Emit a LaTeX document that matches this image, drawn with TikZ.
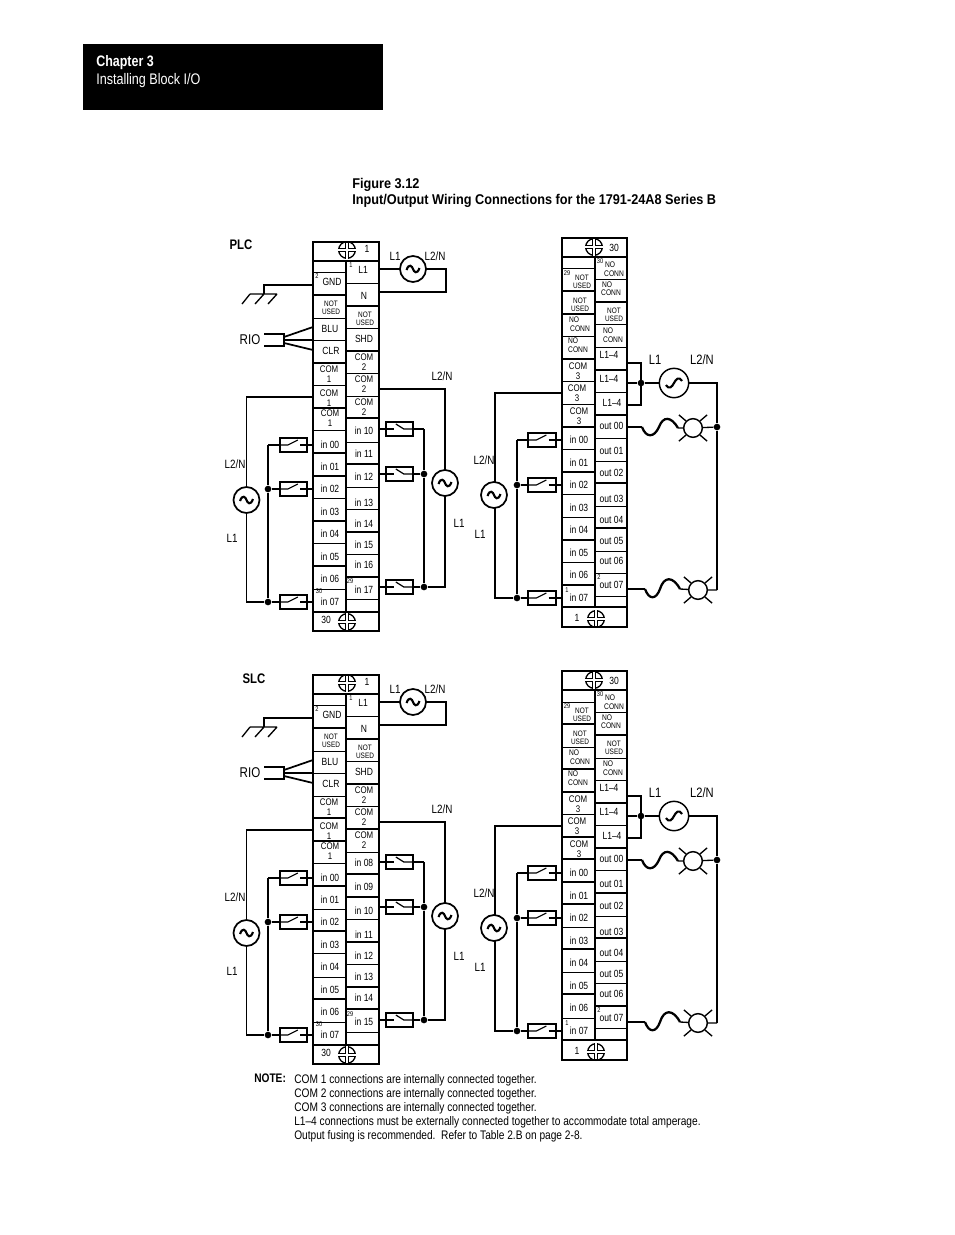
\documentclass[tikz,border=0pt]{standalone}
\usepackage{fontspec}
\setmainfont[FakeStretch=0.82]{Liberation Sans}
\newfontfamily\headfont[FakeStretch=0.9]{Liberation Sans}
\usepackage{xcolor}
\usepackage{tikz}
\usetikzlibrary{positioning, calc}

\tikzset{
  wire/.style={line width=1pt},
  rowthin/.style={line width=0.7pt},
  rowthick/.style={line width=1.5pt},
  frame/.style={line width=1.5pt},
  inlab/.style={inner sep=0pt,font=\fontsize{7.8}{8}\selectfont},
  comlab/.style={inner sep=0pt,align=center,font=\fontsize{7.2}{7.6}\selectfont},
  tinylab/.style={inner sep=0pt,align=center,font=\fontsize{5.9}{6.2}\selectfont},
  conlab/.style={inner sep=0pt,font=\fontsize{6.1}{6.4}\selectfont},
  numlab/.style={inner sep=0pt,font=\fontsize{5.2}{5.5}\selectfont},
  sidelab/.style={inner sep=0pt,font=\fontsize{9}{10}\selectfont},
  riolab/.style={inner sep=0pt,font=\fontsize{10.6}{11}\selectfont},
  biglab/.style={inner sep=0pt,font=\fontsize{10.2}{11}\selectfont},
  notelab/.style={inner sep=0pt,anchor=west,font=\fontsize{9.3}{10}\selectfont},
  headlab/.style={inner sep=0pt,anchor=west,font=\headfont\bfseries\fontsize{10.6}{12}\selectfont},
  acsrc/.style={circle,draw,fill=white,line width=1.3pt,inner sep=0pt,minimum size=19.5pt,
    path picture={\draw[line width=1.6pt]
      ($(path picture bounding box.center)+(-6.5,1)$)
      .. controls ($(path picture bounding box.center)+(-4,-6)$) and ($(path picture bounding box.center)+(-1,-3)$) .. (path picture bounding box.center)
      .. controls ($(path picture bounding box.center)+(1,3)$) and ($(path picture bounding box.center)+(4,6)$) .. ($(path picture bounding box.center)+(6.5,-1)$);}},
  acsrcout/.style={circle,draw,fill=white,line width=1.1pt,inner sep=0pt,minimum size=22pt,
    path picture={\draw[line width=1.6pt]
      ($(path picture bounding box.center)+(-8,2)$)
      .. controls ($(path picture bounding box.center)+(-5,7)$) and ($(path picture bounding box.center)+(-2,4)$) .. (path picture bounding box.center)
      .. controls ($(path picture bounding box.center)+(2,-4)$) and ($(path picture bounding box.center)+(5,-7)$) .. ($(path picture bounding box.center)+(8,-2)$);}},
  swl/.style={rectangle,draw,line width=1.3pt,inner sep=0pt,minimum width=20.5pt,minimum height=10pt,
    path picture={\draw[line width=0.9pt]
      (path picture bounding box.west) -- ++(8,0) -- ++(10,-5);
      \draw[line width=0.9pt] ($(path picture bounding box.east)+(-7,0)$) -- (path picture bounding box.east);}},
  swr/.style={rectangle,draw,line width=1.3pt,inner sep=0pt,minimum width=20.5pt,minimum height=10pt,
    path picture={\draw[line width=0.9pt]
      (path picture bounding box.west) -- ++(8,0);
      \draw[line width=0.9pt] ($(path picture bounding box.west)+(10,-5)$) -- ++(8,5) -- (path picture bounding box.east);}},
  screw/.style={circle,draw,line width=1pt,inner sep=0pt,minimum size=12.5pt},
  lamp/.style={circle,draw,line width=1.1pt,inner sep=0pt,minimum size=14pt},
  dot/.style={circle,fill=black,inner sep=0pt,minimum size=5pt}
}

% plus mark in a screw
\newcommand{\screwmark}[1]{
  \draw[line width=2.8pt] (#1.west) -- (#1.east) (#1.north) -- (#1.south);
  \draw[line width=1.1pt,white] (#1.west) -- (#1.east) (#1.north) -- (#1.south);
}

% one input block with its wiring
\newcommand{\leftunit}[5]{
  \node[screw] (topscrew) at (347,250) {};
  \node[screw] (botscrew) at (347,622) {};
  \screwmark{topscrew}
  \screwmark{botscrew}
  \draw[frame] (313,242) rectangle (379,631);
  \draw[frame] (346,260.5) -- (346,612);
  \draw[frame] (313,260.5) -- (379,260.5) (313,612) -- (379,612);
  \foreach \y in {#1} \draw[rowthick] (313,\y) -- (346,\y);
  \foreach \y in {#2} \draw[rowthin] (313,\y) -- (346,\y);
  \foreach \y in {#3} \draw[rowthick] (346,\y) -- (379,\y);
  \foreach \y in {#4} \draw[rowthin] (346,\y) -- (379,\y);
  % terminal labels
  \node[inlab] at (367,249) {1};
  \node[inlab] at (326,620) {30};
  \node[numlab] at (317,276) {2};
  \node[numlab] at (351,265) {1};
  \node[numlab] at (350,581) {29};
  \node[numlab] at (319,591) {30};
  \node[inlab] at (332,282) {GND};
  \node[inlab] at (363,270) {L1};
  \node[inlab] at (364,296) {N};
  \node[tinylab] at (331,308) {NOT\\USED};
  \node[tinylab] at (365,319) {NOT\\USED};
  \node[inlab] at (330,329) {BLU};
  \node[inlab] at (331,351) {CLR};
  \node[inlab] at (364,339) {SHD};
  \node[comlab] at (329,374) {COM\\1};
  \node[comlab] at (329,398) {COM\\1};
  \node[comlab] at (330,418) {COM\\1};
  \node[comlab] at (364,362) {COM\\2};
  \node[comlab] at (364,384) {COM\\2};
  \node[comlab] at (364,407) {COM\\2};
  \foreach \y [count=\i from 0] in {445,467,489,512,534,557,579,602}
    \node[inlab] at (330,\y) {in 0\i};
  \foreach \y/\t in {#5}
    \node[inlab] at (364,\y) {in \t};
  % AC feed to L1 and N
  \coordinate (l1pin) at (379,269);
  \coordinate (npin) at (379,292);
  \coordinate (feedr) at (446,269);
  \coordinate (feedd) at (446,292);
  \draw[wire] (l1pin) -- (feedr) -- (feedd) -- (npin);
  \node[acsrc] (acfeed) at (413,269) {};
  \node[sidelab] at (395,256) {L1};
  \node[sidelab] at (435,256) {L2/N};
  % earth
  \coordinate (gndpin) at (313,285);
  \coordinate (gndtop) at (264,285);
  \coordinate (gndbar) at (264,294);
  \draw[wire] (gndpin) -- (gndtop) -- (gndbar);
  \draw[wire] (250,294) -- (277,294)
    (250,294) -- (242,304) (264,294) -- (255,304) (277,294) -- (268,304);
  % RIO cable
  \node[riolab] at (250,340) {RIO};
  \draw[line width=1.3pt] (264,334) -- (284,334) -- (284,346) -- (264,346);
  \draw[line width=1.3pt] (284,337) -- (313,327) (284,340) -- (313,340) (284,343) -- (313,350);
  % inputs left side
  \coordinate (com1pin) at (313,397);
  \coordinate (comcorner) at (246.5,397);
  \coordinate (srcbot) at (246.5,602);
  \node[swl] (swa) at (293.5,445) {};
  \node[swl] (swb) at (293.5,489) {};
  \node[swl] (swc) at (293.5,602) {};
  \node[dot] (dotb) at (268,489) {};
  \node[dot] (dotc) at (268,602) {};
  \coordinate (bustop) at (268,445);
  \draw[wire] (com1pin) -- (comcorner) -- (srcbot) -- (dotc);
  \node[acsrc] (acleft) at (246.5,500) {};
  \draw[wire] (bustop) -- (dotb) -- (dotc);
  \draw[wire] (bustop) -- (swa) (dotb) -- (swb) (dotc) -- (swc);
  \draw[wire] (swa) -- (313,445) (swb) -- (313,489) (swc) -- (313,602);
  \node[sidelab] at (235,464) {L2/N};
  \node[sidelab] at (232,538) {L1};
  % inputs right side
  \coordinate (com2pin) at (379,389);
  \coordinate (comcornerr) at (445,389);
  \coordinate (srcbotr) at (445,587);
  \node[swr] (swd) at (399.5,429) {};
  \node[swr] (swe) at (399.5,474) {};
  \node[swr] (swf) at (399.5,587) {};
  \node[dot] (dote) at (424,474) {};
  \node[dot] (dotf) at (424,587) {};
  \coordinate (bustopr) at (424,429);
  \draw[wire] (com2pin) -- (comcornerr) -- (srcbotr) -- (dotf);
  \node[acsrc] (acright) at (445,483) {};
  \draw[wire] (bustopr) -- (dote) -- (dotf);
  \draw[wire] (bustopr) -- (swd) (dote) -- (swe) (dotf) -- (swf);
  \draw[wire] (379,429) -- (swd) (379,474) -- (swe) (379,587) -- (swf);
  \node[sidelab] at (442,376) {L2/N};
  \node[sidelab] at (459,523) {L1};
}

% one input/output block with its wiring
\newcommand{\rightunit}[4]{
  \node[screw] (topscrew) at (594,247) {};
  \node[screw] (botscrew) at (596,619) {};
  \screwmark{topscrew}
  \screwmark{botscrew}
  \draw[frame] (562,238) rectangle (627,627);
  \draw[frame] (595,257) -- (595,607);
  \draw[frame] (562,257) -- (627,257) (562,607) -- (627,607);
  \foreach \y in {#1} \draw[rowthick] (562,\y) -- (595,\y);
  \foreach \y in {#2} \draw[rowthin] (562,\y) -- (595,\y);
  \foreach \y in {#3} \draw[rowthick] (595,\y) -- (627,\y);
  \foreach \y in {#4} \draw[rowthin] (595,\y) -- (627,\y);
  % terminal labels
  \node[inlab] at (614,248) {30};
  \node[inlab] at (577,618) {1};
  \node[numlab] at (567,273) {29};
  \node[numlab] at (600,261) {30};
  \node[numlab] at (567,590) {1};
  \node[numlab] at (599,577) {2};
  \node[tinylab] at (582,281.5) {NOT\\USED};
  \node[tinylab] at (580,304.5) {NOT\\USED};
  \node[conlab] at (574,320) {NO};
  \node[conlab] at (580,329) {CONN};
  \node[conlab] at (573,341) {NO};
  \node[conlab] at (578,350) {CONN};
  \node[conlab] at (610,265) {NO};
  \node[conlab] at (614,274) {CONN};
  \node[conlab] at (607,285) {NO};
  \node[conlab] at (611,293) {CONN};
  \node[tinylab] at (614,315) {NOT\\USED};
  \node[conlab] at (608,331) {NO};
  \node[conlab] at (613,340) {CONN};
  \node[comlab] at (578,371) {COM\\3};
  \node[comlab] at (577,393) {COM\\3};
  \node[comlab] at (579,416) {COM\\3};
  \node[inlab] at (609,355) {L1--4};
  \node[inlab] at (609,379) {L1--4};
  \node[inlab] at (612,403) {L1--4};
  \foreach \y [count=\i from 0] in {440,463,485,508,530,553,575,598}
    \node[inlab] at (579,\y) {in 0\i};
  \foreach \y [count=\i from 0] in {426,451,473,499,520,541,561,585}
    \node[inlab] at (611.5,\y) {out 0\i};
  % outputs
  \coordinate (l1a) at (627,363);
  \coordinate (l1b) at (627,383);
  \coordinate (l1c) at (627,405);
  \coordinate (brktop) at (641,363);
  \coordinate (brkbot) at (641,405);
  \node[dot] (brkdot) at (641,383) {};
  \draw[wire] (l1a) -- (brktop) -- (brkbot) -- (l1c);
  \coordinate (outcorner) at (717,383);
  \coordinate (outbot) at (717,590);
  \node[dot] (outdot) at (717,427) {};
  \draw[wire] (l1b) -- (brkdot) -- (outcorner) -- (outdot) -- (outbot);
  \node[acsrcout] (acout) at (674,383) {};
  \node[biglab] at (655,360) {L1};
  \node[biglab] at (702,360) {L2/N};
  % fuse and lamp on out 00
  \node[lamp] (lampa) at (693,428) {};
  \coordinate (pina) at (627,427);
  \draw[wire] (pina) -- (642,427);
  \draw[line width=1.7pt] (642,427) .. controls (646,438) and (654,438) .. (659,427)
    .. controls (663,416) and (671,416) .. (678,428);
  \draw[wire] (678,428) -- (lampa) (lampa) -- (outdot);
  \draw[wire] (lampa.45) -- +(7,-6) (lampa.135) -- +(-7,-6) (lampa.225) -- +(-7,6) (lampa.315) -- +(7,6);
  % fuse and lamp on out 07
  \node[lamp] (lampb) at (698,590) {};
  \coordinate (pinb) at (627,589);
  \draw[wire] (pinb) -- (645,589);
  \draw[line width=1.7pt] (645,589) .. controls (649,600) and (656,600) .. (660,589)
    .. controls (664,576) and (673,576) .. (680,589);
  \draw[wire] (680,589) -- (lampb) (lampb) -- (outbot);
  \draw[wire] (lampb.45) -- +(7,-6) (lampb.135) -- +(-7,-6) (lampb.225) -- +(-7,6) (lampb.315) -- +(7,6);
  % inputs
  \coordinate (com3pin) at (562,393);
  \coordinate (comcorner) at (495,393);
  \coordinate (srcbot) at (495,598);
  \node[swl] (swa) at (542,440) {};
  \node[swl] (swb) at (542,485) {};
  \node[swl] (swc) at (542,598) {};
  \node[dot] (dotb) at (517,485) {};
  \node[dot] (dotc) at (517,598) {};
  \coordinate (bustop) at (517,440);
  \draw[wire] (com3pin) -- (comcorner) -- (srcbot) -- (dotc);
  \node[acsrc] (acleft) at (494,495) {};
  \draw[wire] (bustop) -- (dotb) -- (dotc);
  \draw[wire] (bustop) -- (swa) (dotb) -- (swb) (dotc) -- (swc);
  \draw[wire] (swa) -- (562,440) (swb) -- (562,485) (swc) -- (562,598);
  \node[sidelab] at (484,460) {L2/N};
  \node[sidelab] at (480,534) {L1};
}

\begin{document}
\begin{tikzpicture}[x=0.75pt,y=-0.75pt]
\useasboundingbox (0,0) rectangle (954,1235);
% Page head
\fill[black] (83,44) rectangle (383,110);
\node[inner sep=0pt,anchor=west,white,font=\bfseries\fontsize{11.4}{12}\selectfont] (chap) at (96,63) {Chapter 3};
\node[inner sep=0pt,anchor=west,white,font=\fontsize{11.5}{12}\selectfont] (chapname) at (96,81) {Installing Block I/O};
\node[headlab] (figno) at (352,185) {Figure 3.12};
\node[headlab] (figtitle) at (352,201) {Input/Output Wiring Connections for the 1791-24A8 Series B};
\node[inner sep=0pt,font=\bfseries\fontsize{10.4}{11}\selectfont] (plc) at (241,245) {PLC};
\node[inner sep=0pt,font=\bfseries\fontsize{10.4}{11}\selectfont] (slc) at (254,679) {SLC};
% PLC blocks
\begin{scope}[name prefix=pa-]
\leftunit{295,363,408,453,476,521,566}{272,318,340,385,430,498,543,589}
  {306,351,418,464,532,577}{283,328,373,396,442,487,509,554,599}
  {431/10,454/11,477/12,503/13,524/14,545/15,565/16,590/17}
\end{scope}
\begin{scope}[name prefix=pb-]
\rightunit{291,314,359,427,472,540,585}{268,336,381,404,449,494,517,562}
  {302,370,415,483,528}{279,324,347,392,438,461,506,551,573,596}
\end{scope}
% SLC blocks
\begin{scope}[shift={(0,433)},name prefix=sa-]
\leftunit{295,385,408,453,498,566}{272,318,340,363,430,476,520,544,589}
  {306,351,396,441,464,509,554,576}{283,328,373,419,486,531,599}
  {430/08,454/09,478/10,502/11,523/12,544/13,565/14,589/15}
\end{scope}
\begin{scope}[shift={(0,433)},name prefix=sb-]
\rightunit{291,336,359,404,426,449,471,516,561}{269,314,381,494,539,585}
  {302,370,415,460,505,573}{279,325,347,392,437,483,528,550,595}
\end{scope}
% Notes
\node[inner sep=0pt,anchor=west,font=\bfseries\fontsize{9.3}{10}\selectfont] (note) at (254,1078.5) {NOTE:};
\node[notelab] (na) at (294,1080) {COM 1 connections are internally connected together.};
\node[notelab] (nb) at (294,1094) {COM 2 connections are internally connected together.};
\node[notelab] (nc) at (294,1108) {COM 3 connections are internally connected together.};
\node[notelab] (nd) at (294,1122) {L1--4 connections must be externally connected together to accommodate total amperage.};
\node[notelab] (ne) at (294,1136) {Output fusing is recommended.\ \ Refer to Table 2.B on page 2-8.};
\end{tikzpicture}
\end{document}
